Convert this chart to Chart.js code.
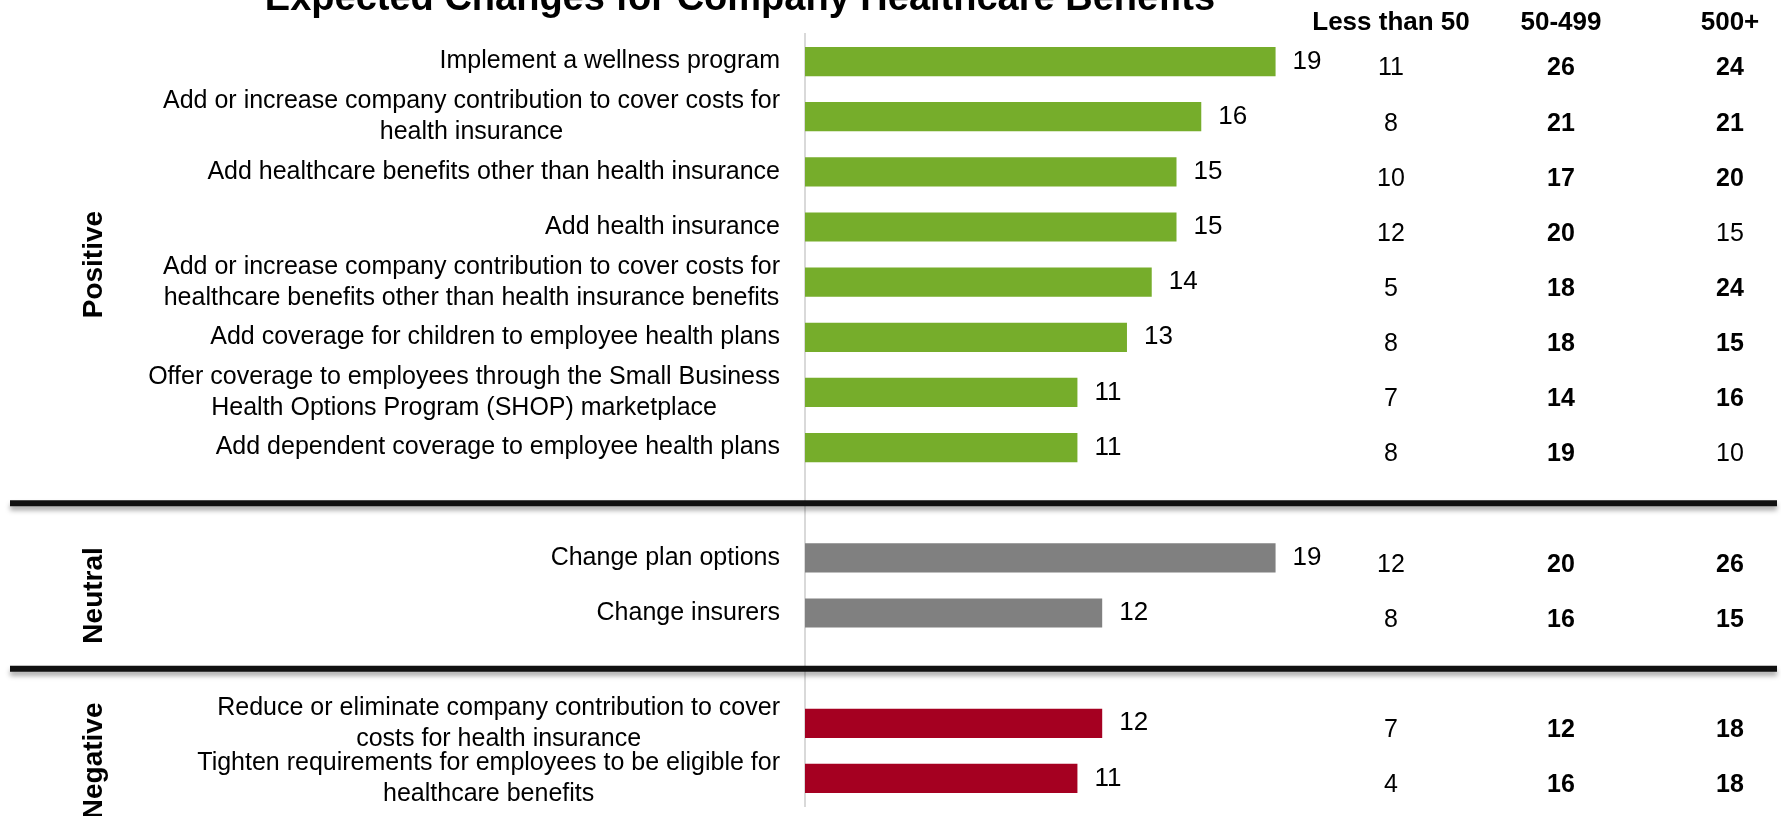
<!DOCTYPE html>
<html>
<head>
<meta charset="utf-8">
<script src="https://cdn.jsdelivr.net/npm/chart.js@4/dist/chart.umd.min.js"></script>
<style>
  html, body { margin: 0; padding: 0; background: #fff; }
  #wrap { width: 1781px; height: 816px; position: relative; }
</style>
</head>
<body>
<div id="wrap"><canvas id="benefitsChart" width="1781" height="816"></canvas></div>
<script>
// rows, with empty rows where the group separators go
const categories = [
    ['Implement a wellness program'],
    ['Add or increase company contribution to cover costs for', 'health insurance'],
    ['Add healthcare benefits other than health insurance'],
    ['Add health insurance'],
    ['Add or increase company contribution to cover costs for', 'healthcare benefits other than health insurance benefits'],
    ['Add coverage for children to employee health plans'],
    ['Offer coverage to employees through the Small Business', 'Health Options Program (SHOP) marketplace'],
    ['Add dependent coverage to employee health plans'],
    [''],
    ['Change plan options'],
    ['Change insurers'],
    [''],
    ['Reduce or eliminate company contribution to cover', 'costs for health insurance'],
    ['Tighten requirements for employees to be eligible for', 'healthcare benefits']
];

const totals     = [19, 16, 15, 15, 14, 13, 11, 11, null, 19, 12, null, 12, 11];
const under50    = [11, 8, 10, 12, 5, 8, 7, 8, null, 12, 8, null, 7, 4];
const from50     = [26, 21, 17, 20, 18, 18, 14, 19, null, 20, 16, null, 12, 16];
const over500    = [24, 21, 20, 15, 24, 15, 16, 10, null, 26, 15, null, 18, 18];
const over500Sig = [true, true, true, false, true, true, true, false, null, true, true, null, true, true];

const sizeHeaders = ['Less than 50', '50-499', '500+'];

const groups = [
    { name: 'Positive', first: 0, last: 7, color: '#76ad2b' },
    { name: 'Neutral', first: 9, last: 10, color: '#808080' },
    { name: 'Negative', first: 12, last: 13, color: '#a50021' }
];
const separators = [8, 11];

const barColors = totals.map((v, i) => {
    const g = groups.find(g => i >= g.first && i <= g.last);
    return g ? g.color : 'transparent';
});

const FONT = "'Liberation Sans', Arial, sans-serif";
const NARROW = "'Liberation Sans Narrow', 'Arial Narrow', 'Liberation Sans', sans-serif";

const extrasPlugin = {
    id: 'extras',
    afterDatasetsDraw(chart) {
        const { ctx, chartArea, scales: { y } } = chart;
        const meta = chart.getDatasetMeta(0);
        ctx.save();

        // row labels: block right-aligned to the axis, lines centred in the block
        ctx.fillStyle = '#000';
        ctx.font = '25px ' + FONT;
        ctx.textAlign = 'center';
        ctx.textBaseline = 'middle';
        categories.forEach((lines, i) => {
            const cy = y.getPixelForValue(i);
            const w = Math.max(...lines.map(l => ctx.measureText(l).width));
            const cx = chartArea.left - 25 - w / 2;
            const lh = 31;
            lines.forEach((l, k) => {
                ctx.fillText(l, cx, cy + (k - (lines.length - 1) / 2) * lh);
            });
        });

        // value at bar end
        ctx.font = '26px ' + FONT;
        ctx.textAlign = 'left';
        meta.data.forEach((bar, i) => {
            if (totals[i] == null) return;
            ctx.fillText(String(totals[i]), bar.x + 17, bar.y);
        });

        // company size columns
        const cols = [chartArea.right - 157, chartArea.right + 13, chartArea.right + 182];
        ctx.textAlign = 'center';
        ctx.textBaseline = 'alphabetic';
        ctx.font = 'bold 26px ' + FONT;
        sizeHeaders.forEach((h, c) => ctx.fillText(h, cols[c], 30));

        ctx.textBaseline = 'middle';
        totals.forEach((t, i) => {
            if (t == null) return;
            const cy = y.getPixelForValue(i) + 7;
            ctx.font = '25px ' + FONT;
            ctx.fillText(String(under50[i]), cols[0], cy);
            ctx.font = 'bold 25px ' + FONT;
            ctx.fillText(String(from50[i]), cols[1], cy);
            ctx.font = (over500Sig[i] ? 'bold ' : '') + '25px ' + FONT;
            ctx.fillText(String(over500[i]), cols[2], cy);
        });

        // group names, rotated
        ctx.font = 'bold 28px ' + NARROW;
        groups.forEach(g => {
            const cy = (y.getPixelForValue(g.first) + y.getPixelForValue(g.last)) / 2 + 10;
            ctx.save();
            ctx.translate(94, cy);
            ctx.rotate(-Math.PI / 2);
            ctx.fillText(g.name, 0, 0);
            ctx.restore();
        });

        // heavy separators between groups
        separators.forEach(idx => {
            const sy = y.getPixelForValue(idx) + 0.5;
            ctx.save();
            ctx.strokeStyle = '#111';
            ctx.lineWidth = 6;
            ctx.shadowColor = 'rgba(0,0,0,0.35)';
            ctx.shadowBlur = 5;
            ctx.shadowOffsetY = 4;
            ctx.beginPath();
            ctx.moveTo(10, sy);
            ctx.lineTo(1777, sy);
            ctx.stroke();
            ctx.restore();
        });

        // title, partly above the top edge
        ctx.font = 'bold 38px ' + FONT;
        ctx.textAlign = 'center';
        ctx.textBaseline = 'alphabetic';
        ctx.fillText('Expected Changes for Company Healthcare Benefits', 740, 10);

        ctx.restore();
    }
};

new Chart(document.getElementById('benefitsChart'), {
    type: 'bar',
    data: {
        labels: categories.map(c => c.join(' ')),
        datasets: [{
            data: totals,
            backgroundColor: barColors,
            borderWidth: 0,
            categoryPercentage: 1,
            barPercentage: 0.53
        }]
    },
    options: {
        indexAxis: 'y',
        responsive: false,
        animation: false,
        layout: { padding: { top: 34, bottom: 10, left: 0, right: 233 } },
        plugins: {
            legend: { display: false },
            tooltip: { enabled: false }
        },
        scales: {
            x: {
                display: false,
                min: 0,
                max: 30
            },
            y: {
                grid: { display: false },
                ticks: { display: false },
                border: { display: true, color: '#d9d9d9', width: 2 },
                afterFit: (scale) => { scale.width = 805; }
            }
        }
    },
    plugins: [extrasPlugin]
});
</script>
</body>
</html>
